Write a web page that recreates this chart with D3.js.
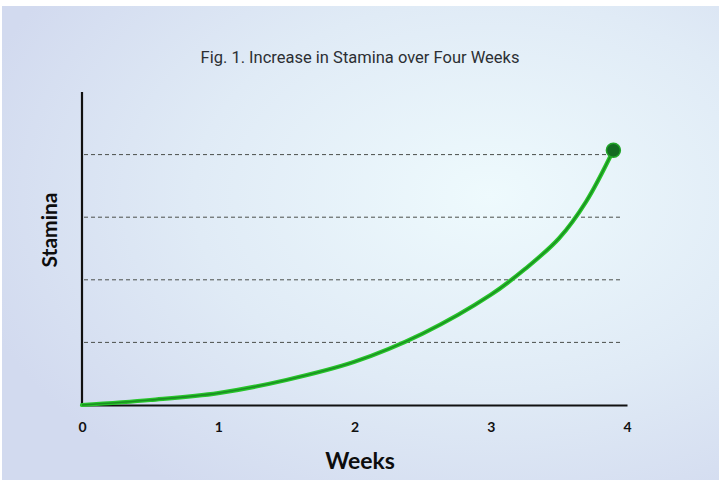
<!DOCTYPE html>
<html>
<head>
<meta charset="utf-8">
<script src="https://cdn.jsdelivr.net/npm/d3@7"></script>
<style>
  html, body { margin: 0; padding: 0; background: #fff; }
  svg { display: block; }
</style>
</head>
<body>
<div id="chart"></div>
<script>
// data
const weeks = [0, 0.5, 1, 1.5, 2, 2.5, 3, 3.25, 3.5, 3.7, 3.9];
const stamina = [0, 0.08, 0.19, 0.4, 0.69, 1.14, 1.76, 2.17, 2.66, 3.25, 4.07];
const xTicks = [0, 1, 2, 3, 4];
const gridLevels = [1, 2, 3, 4];

const title = "Fig. 1. Increase in Stamina over Four Weeks";
const xLabel = "Weeks";
const yLabel = "Stamina";

const width = 725;
const height = 487;
const margin = { top: 92, right: 98, bottom: 82, left: 82 };

const svg = d3
  .select("#chart")
  .append("svg")
  .attr("width", width)
  .attr("height", height);

//background card
const defs = svg.append("defs");
const grad = defs
  .append("radialGradient")
  .attr("id", "bg")
  .attr("cx", "0.68")
  .attr("cy", "0.4")
  .attr("r", "0.75");
grad.append("stop").attr("offset", "0%").attr("stop-color", "#eefafd");
grad.append("stop").attr("offset", "55%").attr("stop-color", "#e0ebf6");
grad.append("stop").attr("offset", "100%").attr("stop-color", "#d2daef");

svg
  .append("rect")
  .attr("x", 2)
  .attr("y", 6)
  .attr("width", 717)
  .attr("height", 474)
  .attr("fill", "url(#bg)");

//scales
const x = d3
  .scaleLinear()
  .domain([0, 4])
  .range([margin.left, width - margin.right]);
const y = d3
  .scaleLinear()
  .domain([0, 5])
  .range([height - margin.bottom, margin.top]);

//gridlines
svg
  .append("g")
  .selectAll("line")
  .data(gridLevels)
  .join("line")
  .attr("x1", x(0) + 2)
  .attr("x2", (d) => (d === 4 ? x(3.86) : x(3.97)))
  .attr("y1", (d) => y(d))
  .attr("y2", (d) => y(d))
  .attr("stroke", "#4a4f4a")
  .attr("stroke-width", 1)
  .attr("stroke-dasharray", "4,3");

//axes
const xAxis = svg
  .append("g")
  .attr("transform", `translate(0,${y(0)})`)
  .call(d3.axisBottom(x).tickValues(xTicks).tickSize(0).tickPadding(17).tickFormat(d3.format("d")));
xAxis.select(".domain").attr("stroke", "#111").attr("stroke-width", 2.2);
xAxis
  .selectAll("text")
  .attr("font-family", "Lato, 'DejaVu Sans', sans-serif")
  .attr("font-weight", "bold")
  .attr("font-size", 14)
  .attr("fill", "#111");

svg
  .append("line")
  .attr("x1", x(0))
  .attr("x2", x(0))
  .attr("y1", y(0) + 1)
  .attr("y2", y(5))
  .attr("stroke", "#111")
  .attr("stroke-width", 2.2);

//curve
const points = weeks.map((w, i) => [w, stamina[i]]);
const line = d3
  .line()
  .x((d) => x(d[0]))
  .y((d) => y(d[1]))
  .curve(d3.curveCatmullRom.alpha(0.5));

svg
  .append("path")
  .datum(points)
  .attr("d", line)
  .attr("fill", "none")
  .attr("stroke", "#27c52a")
  .attr("stroke-width", 4.2)
  .attr("stroke-linecap", "round");
svg
  .append("path")
  .datum(points)
  .attr("d", line)
  .attr("fill", "none")
  .attr("stroke", "#17781f")
  .attr("stroke-width", 1.6)
  .attr("stroke-opacity", 0.7);

//end dot
const last = points[points.length - 1];
svg
  .append("circle")
  .attr("cx", x(last[0]))
  .attr("cy", y(last[1]))
  .attr("r", 7)
  .attr("fill", "#136b22")
  .attr("stroke", "#21a629")
  .attr("stroke-width", 1.5);

//title
svg
  .append("text")
  .attr("x", 360)
  .attr("y", 63)
  .attr("text-anchor", "middle")
  .attr("font-family", "Roboto, sans-serif")
  .attr("font-size", 16.5)
  .attr("fill", "#2c2f33")
  .text(title);

//axis labels
svg
  .append("text")
  .attr("x", 360)
  .attr("y", 469)
  .attr("text-anchor", "middle")
  .attr("font-family", "Lato, 'DejaVu Sans', sans-serif")
  .attr("font-weight", "bold")
  .attr("font-size", 23)
  .attr("fill", "#0d0d0d")
  .text(xLabel);

svg
  .append("text")
  .attr("transform", "translate(57,230) rotate(-90)")
  .attr("text-anchor", "middle")
  .attr("font-family", "Lato, 'DejaVu Sans', sans-serif")
  .attr("font-weight", "bold")
  .attr("font-size", 21)
  .attr("fill", "#0d0d0d")
  .text(yLabel);
</script>
</body>
</html>
